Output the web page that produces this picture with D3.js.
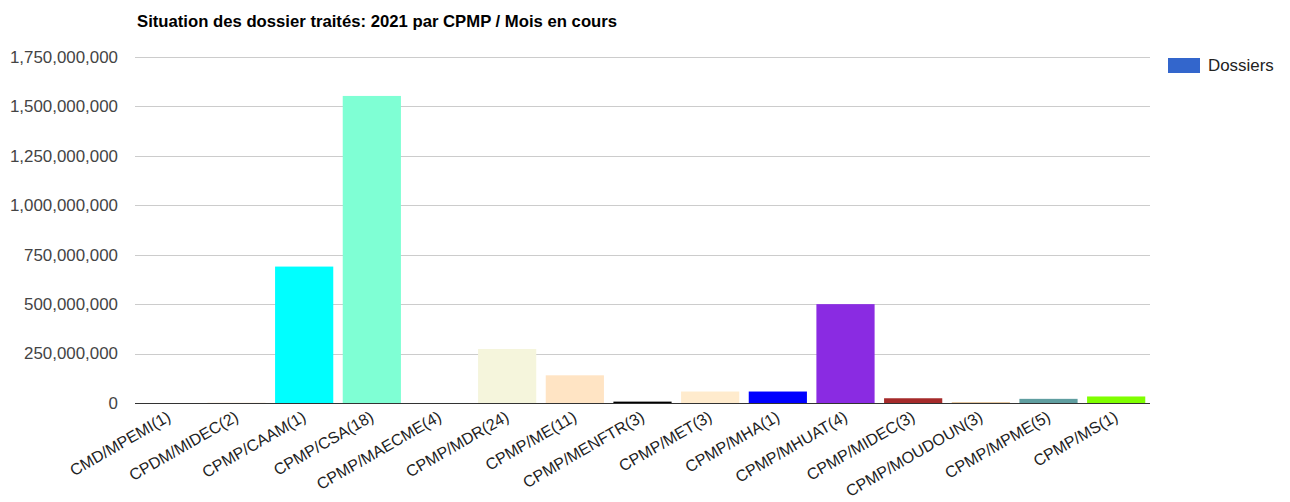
<!DOCTYPE html>
<html>
<head>
<meta charset="utf-8">
<script src="https://cdn.jsdelivr.net/npm/d3@7"></script>
<style>
  body { margin: 0; background: #fff; }
  text { font-family: "Liberation Sans", Arial, sans-serif; }
</style>
</head>
<body>
<svg id="chart"></svg>
<script>
var categories = [
    'CMD/MPEMI(1)', 'CPDM/MIDEC(2)', 'CPMP/CAAM(1)', 'CPMP/CSA(18)', 'CPMP/MAECME(4)',
    'CPMP/MDR(24)', 'CPMP/ME(11)', 'CPMP/MENFTR(3)', 'CPMP/MET(3)', 'CPMP/MHA(1)',
    'CPMP/MHUAT(4)', 'CPMP/MIDEC(3)', 'CPMP/MOUDOUN(3)', 'CPMP/MPME(5)', 'CPMP/MS(1)'
];
var dossiers = [
    300000, 2000000, 690000000, 1553000000, 1500000,
    273000000, 140000000, 7000000, 58000000, 58000000,
    500000000, 24000000, 4000000, 21000000, 33000000
];
var barColors = [
    'aliceblue', 'antiquewhite', 'aqua', 'aquamarine', 'azure',
    'beige', 'bisque', 'black', 'blanchedalmond', 'blue',
    'blueviolet', 'brown', 'burlywood', 'cadetblue', 'chartreuse'
];
var yTicks = [0, 250000000, 500000000, 750000000, 1000000000, 1250000000, 1500000000, 1750000000];
var title = 'Situation des dossier traités: 2021 par CPMP / Mois en cours';
var seriesName = 'Dossiers';

var plotLeft = 135, plotRight = 1150, plotTop = 57, plotBottom = 403;

var svg = d3.select('svg#chart')
    .attr('width', 1290)
    .attr('height', 502);

var x = d3.scaleBand()
    .domain(categories)
    .range([plotLeft, plotRight])
    .paddingInner(0.14)
    .paddingOuter(0.07);

var y = d3.scaleLinear()
    .domain([0, 1750000000])
    .range([plotBottom, plotTop]);

// grid
svg.append('g')
    .selectAll('line')
    .data(yTicks)
    .enter().append('line')
    .attr('x1', plotLeft)
    .attr('x2', plotRight)
    .attr('y1', function (d) { return Math.round(y(d)) + 0.5; })
    .attr('y2', function (d) { return Math.round(y(d)) + 0.5; })
    .attr('stroke', '#cccccc');

// y labels
var yAxis = svg.append('g')
    .attr('transform', 'translate(' + (plotLeft - 17) + ',0)')
    .call(d3.axisLeft(y).tickValues(yTicks).tickFormat(d3.format(',')).tickSize(0).tickPadding(0));
yAxis.select('.domain').remove();
yAxis.selectAll('text')
    .attr('fill', '#444444')
    .style('font-size', '16.9px')
    .style('font-family', '"Liberation Sans", Arial, sans-serif');

// bars
svg.append('g')
    .selectAll('rect')
    .data(dossiers)
    .enter().append('rect')
    .attr('x', function (d, i) { return x(categories[i]); })
    .attr('width', x.bandwidth())
    .attr('y', function (d) { return y(d); })
    .attr('height', function (d) { return plotBottom - y(d); })
    .attr('fill', function (d, i) { return barColors[i]; });

// baseline
svg.append('line')
    .attr('x1', plotLeft)
    .attr('x2', plotRight)
    .attr('y1', plotBottom + 0.5)
    .attr('y2', plotBottom + 0.5)
    .attr('stroke', '#333333');

// x labels
svg.append('g')
    .selectAll('text')
    .data(categories)
    .enter().append('text')
    .attr('transform', function (d) {
        return 'translate(' + (x(d) + x.bandwidth() / 2 + 3) + ',' + (plotBottom + 17) + ') rotate(-30)';
    })
    .attr('text-anchor', 'end')
    .attr('fill', '#222222')
    .style('font-size', '16px')
    .text(function (d) { return d; });

// title
svg.append('text')
    .attr('x', 137)
    .attr('y', 27)
    .attr('fill', '#000')
    .style('font-size', '16.7px')
    .style('font-weight', 'bold')
    .text(title);

// legend
svg.append('rect')
    .attr('x', 1168)
    .attr('y', 58)
    .attr('width', 32)
    .attr('height', 15)
    .attr('fill', '#3366cc');
svg.append('text')
    .attr('x', 1208)
    .attr('y', 71)
    .attr('fill', '#222222')
    .style('font-size', '16.9px')
    .text(seriesName);
</script>
</body>
</html>
